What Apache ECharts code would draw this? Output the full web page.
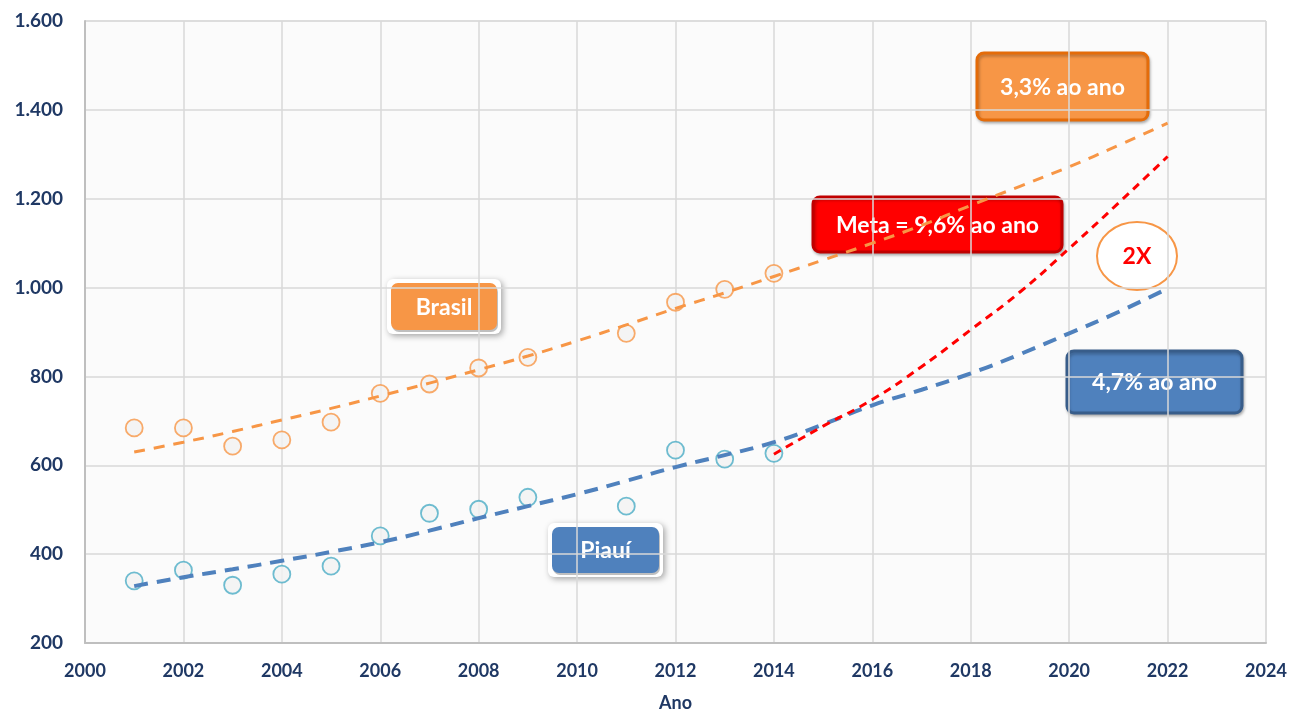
<!DOCTYPE html>
<html>
    <head>
        <meta charset="utf-8">
        <title>Brasil x Piauí</title>
        <script src="https://cdn.jsdelivr.net/npm/echarts@6/dist/echarts.min.js"></script>
        <style>
            body { margin: 0; background: #fff; }
            #chart1 { width: 1292px; height: 712px; }
        </style>
    </head>
    <body>
        <div id="chart1"></div>
    <script type="text/javascript">
        // pontos observados
        var anos = [2001, 2002, 2003, 2004, 2005, 2006, 2007, 2008, 2009, 2011, 2012, 2013, 2014];
        var brasil = [684, 684, 643, 657, 697, 762, 783, 819, 843, 897, 967, 996, 1032];
        var piaui = [340, 364, 330, 355, 373, 441, 492, 501, 528, 508, 634, 614, 627];

        // linhas de tendência
        var anosTend = [2001, 2002, 2003, 2004, 2005, 2006, 2007, 2008, 2009, 2010, 2011,
                        2012, 2013, 2014, 2015, 2016, 2017, 2018, 2019, 2020, 2021, 2022];
        var brasilTend = [630, 652, 676, 702, 728, 756, 785, 815, 846, 880, 916,
                          953, 988, 1025, 1062, 1100, 1140, 1185, 1228, 1272, 1320, 1370];
        var piauiTend = [328, 348, 366, 385, 405, 427, 453, 481, 508, 535, 565,
                         596, 623, 652, 692, 735, 770, 807, 850, 897, 945, 998];
        var anosMeta = [2014, 2015, 2016, 2017, 2018, 2019, 2020, 2021, 2022];
        var meta = [625, 688, 748, 822, 905, 990, 1088, 1190, 1295];

        var ticksY = [200, 400, 600, 800, 1000, 1200, 1400, 1600];

        function pares(xs, ys) {
            var out = [];
            for (var i = 0; i < xs.length; i++) out.push([xs[i], ys[i]]);
            return out;
        }

        var fonte = 'Lato, "Open Sans", sans-serif';

        // caixa com texto (anotações do gráfico)
        function caixa(x, y, w, h, cor, borda, texto, moldura) {
            var filhos = [];
            if (moldura) {
                filhos.push({
                    type: 'rect',
                    shape: { x: -4, y: -4, width: w + 8, height: h + 8, r: 6 },
                    style: { fill: '#fff', shadowBlur: 6, shadowOffsetX: 2, shadowOffsetY: 2, shadowColor: 'rgba(0,0,0,0.35)' }
                });
            }
            filhos.push({
                type: 'rect',
                shape: { x: 0, y: 0, width: w, height: h, r: 7 },
                style: { fill: cor, stroke: borda, lineWidth: borda ? 3 : 0,
                         shadowBlur: moldura ? 0 : 3, shadowOffsetX: 1, shadowOffsetY: 2, shadowColor: 'rgba(0,0,0,0.25)' }
            });
            filhos.push({
                type: 'text',
                x: w / 2, y: h / 2 + 1,
                style: { text: texto, fill: '#fff', font: 'bold 23px ' + fonte, align: 'center', verticalAlign: 'middle' }
            });
            return { type: 'group', x: x, y: y, z: 100, children: filhos };
        }

        var myChart1 = echarts.init(document.getElementById('chart1'));

        myChart1.setOption({
            animation: false,
            grid: {
                left: 85, right: 26, top: 21, bottom: 69, outerBoundsMode: 'none', containLabel: false,
                show: true, backgroundColor: '#fbfbfb', borderColor: '#d9d9d9', borderWidth: 1
            },
            xAxis: {
                type: 'value', min: 2000, max: 2024, interval: 2,
                name: 'Ano', nameLocation: 'middle', nameGap: 51,
                nameTextStyle: { color: '#1f3864', fontWeight: 'bold', fontSize: 18, fontFamily: fonte },
                axisLine: { show: true, lineStyle: { color: '#bfbfbf', width: 2 } },
                axisTick: { show: false },
                axisLabel: { color: '#1f3864', fontWeight: 'bold', fontSize: 18, fontFamily: fonte, margin: 19,
                             formatter: function (v) { return String(v); } },
                splitLine: { lineStyle: { color: '#d9d9d9', width: 1.5 } }
            },
            yAxis: {
                type: 'value', min: 200, max: 1600, interval: 200,
                axisLine: { show: true, lineStyle: { color: '#bfbfbf', width: 2 } },
                axisTick: { show: false },
                axisLabel: { color: '#1f3864', fontWeight: 'bold', fontSize: 19, fontFamily: fonte, margin: 22,
                             formatter: function (v) {
                                 return ticksY.indexOf(v) >= 0 ? String(v).replace(/\B(?=(\d{3})+(?!\d))/g, '.') : '';
                             } },
                splitLine: { lineStyle: { color: '#d9d9d9', width: 1.5 } }
            },
            series: [
                {
                    name: 'Brasil', type: 'scatter', data: pares(anos, brasil),
                    symbol: 'circle', symbolSize: 17, z: 2,
                    itemStyle: { color: '#f2f2f2', borderColor: '#f79646', borderWidth: 1.8 }
                },
                {
                    name: 'Piauí', type: 'scatter', data: pares(anos, piaui),
                    symbol: 'circle', symbolSize: 17, z: 2,
                    itemStyle: { color: '#f2f2f2', borderColor: '#4bacc6', borderWidth: 1.8 }
                },
                {
                    name: 'Tendência Brasil', type: 'line', data: pares(anosTend, brasilTend),
                    smooth: true, showSymbol: false, z: 3,
                    lineStyle: { color: '#f79646', width: 3, type: [11, 9] }
                },
                {
                    name: 'Tendência Piauí', type: 'line', data: pares(anosTend, piauiTend),
                    smooth: true, showSymbol: false, z: 3,
                    lineStyle: { color: '#4f81bd', width: 4, type: [14, 9] }
                },
                {
                    name: 'Meta', type: 'line', data: pares(anosMeta, meta),
                    smooth: true, showSymbol: false, z: 4,
                    lineStyle: { color: '#ff0000', width: 3, type: [8, 6] }
                }
            ],
            graphic: [
                caixa(391, 283, 106, 47, '#f79646', null, 'Brasil', true),
                caixa(552, 527, 107, 46, '#4f81bd', null, 'Piauí', true),
                caixa(977, 53, 171, 67, '#f79646', '#e46c0a', '3,3% ao ano', false),
                caixa(813, 197, 249, 55, '#ff0000', '#c00000', 'Meta = 9,6% ao ano', false),
                caixa(1067, 351, 175, 62, '#4f81bd', '#385d8a', '4,7% ao ano', false),
                {
                    type: 'group', x: 1137, y: 256, z: 100,
                    children: [
                        { type: 'ellipse', shape: { cx: 0, cy: 0, rx: 40, ry: 34 },
                          style: { fill: '#fff', stroke: '#f79646', lineWidth: 2 } },
                        { type: 'text', x: 0, y: 1,
                          style: { text: '2X', fill: '#ff0000', font: 'bold 23px ' + fonte, align: 'center', verticalAlign: 'middle' } }
                    ]
                }
            ]
        });
    </script>
    </body>
</html>
